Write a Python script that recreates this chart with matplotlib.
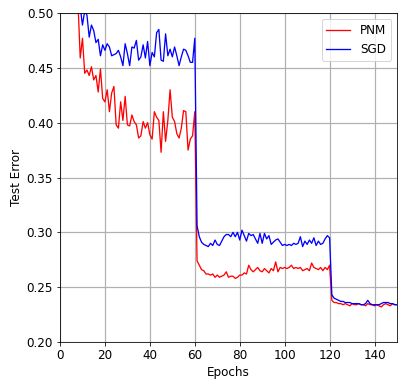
import numpy as np
import matplotlib
matplotlib.use("Agg")
import matplotlib.pyplot as plt

# test error per epoch
pnm_err = [
    0.900, 0.750, 0.660, 0.610, 0.570, 0.550, 0.530, 0.510, 0.459, 0.477,
    0.445, 0.448, 0.443, 0.451, 0.439, 0.443, 0.428, 0.449, 0.422, 0.419,
    0.430, 0.410, 0.427, 0.433, 0.398, 0.395, 0.419, 0.402, 0.424, 0.398,
    0.397, 0.407, 0.401, 0.398, 0.386, 0.388, 0.401, 0.395, 0.400, 0.389,
    0.385, 0.410, 0.405, 0.402, 0.373, 0.410, 0.383, 0.402, 0.430, 0.405,
    0.401, 0.390, 0.386, 0.395, 0.411, 0.410, 0.375, 0.385, 0.388, 0.410,
    0.274, 0.270, 0.266, 0.265, 0.262, 0.262, 0.261, 0.262, 0.259, 0.261,
    0.259, 0.260, 0.261, 0.264, 0.259, 0.260, 0.260, 0.258, 0.259, 0.261,
    0.261, 0.263, 0.262, 0.270, 0.266, 0.264, 0.266, 0.268, 0.265, 0.264,
    0.267, 0.265, 0.263, 0.267, 0.265, 0.273, 0.264, 0.268, 0.267, 0.268,
    0.267, 0.268, 0.270, 0.267, 0.268, 0.267, 0.268, 0.265, 0.266, 0.267,
    0.265, 0.272, 0.268, 0.267, 0.266, 0.268, 0.265, 0.268, 0.266, 0.270,
    0.238, 0.236, 0.236, 0.235, 0.235, 0.234, 0.235, 0.234, 0.233, 0.235,
    0.234, 0.234, 0.235, 0.234, 0.234, 0.233, 0.235, 0.234, 0.234, 0.233,
    0.234, 0.233, 0.232, 0.234, 0.235, 0.234, 0.233, 0.235, 0.234, 0.234,
]

sgd_err = [
    0.850, 0.720, 0.640, 0.590, 0.560, 0.540, 0.525, 0.515, 0.505, 0.489,
    0.502, 0.498, 0.478, 0.489, 0.484, 0.473, 0.476, 0.461, 0.471, 0.466,
    0.472, 0.469, 0.461, 0.462, 0.463, 0.466, 0.460, 0.452, 0.472, 0.463,
    0.452, 0.469, 0.468, 0.475, 0.457, 0.460, 0.471, 0.459, 0.474, 0.452,
    0.464, 0.460, 0.482, 0.485, 0.457, 0.456, 0.481, 0.461, 0.467, 0.460,
    0.469, 0.461, 0.452, 0.460, 0.467, 0.466, 0.461, 0.455, 0.455, 0.477,
    0.306, 0.296, 0.291, 0.289, 0.288, 0.287, 0.290, 0.288, 0.293, 0.289,
    0.288, 0.292, 0.296, 0.298, 0.298, 0.296, 0.300, 0.296, 0.300, 0.293,
    0.302, 0.297, 0.292, 0.299, 0.297, 0.298, 0.294, 0.290, 0.299, 0.290,
    0.299, 0.294, 0.297, 0.289, 0.291, 0.293, 0.294, 0.291, 0.288, 0.289,
    0.288, 0.289, 0.288, 0.290, 0.289, 0.290, 0.296, 0.287, 0.292, 0.289,
    0.293, 0.290, 0.295, 0.288, 0.292, 0.289, 0.290, 0.294, 0.297, 0.295,
    0.243, 0.240, 0.239, 0.238, 0.237, 0.237, 0.236, 0.236, 0.236, 0.235,
    0.235, 0.235, 0.235, 0.234, 0.234, 0.235, 0.238, 0.235, 0.234, 0.234,
    0.234, 0.234, 0.235, 0.236, 0.236, 0.236, 0.235, 0.235, 0.234, 0.234,
]

epochs = np.arange(1, len(pnm_err) + 1)

plt.rcParams["font.size"] = 12

fig = plt.figure(figsize=(407 / 72, 388 / 72), dpi=72)
ax = fig.add_axes([60 / 407, 1 - 342 / 388, 337 / 407, 329 / 388])

ax.plot(epochs, pnm_err, color="red", linewidth=1.3, label="PNM")
ax.plot(epochs, sgd_err, color="blue", linewidth=1.3, label="SGD")

ax.set_xlim(0, 150)
ax.set_ylim(0.2, 0.5)
ax.set_xticks(range(0, 160, 20))
ax.set_yticks(np.arange(0.20, 0.501, 0.05))
ax.set_xlabel("Epochs")
ax.set_ylabel("Test Error")
ax.grid(True, color="#b0b0b0", linewidth=1.2)
ax.legend(loc="upper right")

plt.savefig("out.png", dpi=72)
